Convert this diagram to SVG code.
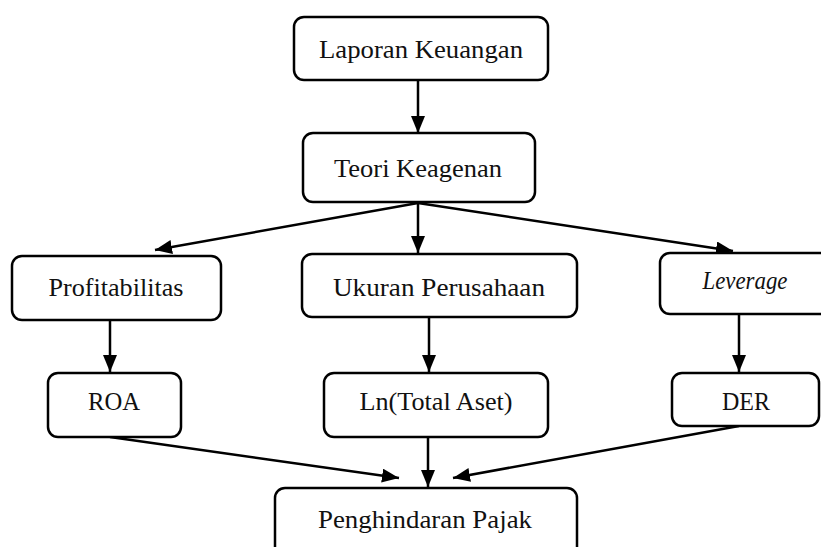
<svg xmlns="http://www.w3.org/2000/svg" width="821" height="547" viewBox="0 0 821 547">
<style>
.box{fill:#fff;stroke:#000;stroke-width:2.5}
.t{font-family:"Liberation Serif","Times New Roman",serif;font-size:25px;fill:#111;text-anchor:middle}
.c{stroke:#000;stroke-width:2.5;fill:none;marker-end:url(#ah)}
</style>
<defs>
<marker id="ah" markerUnits="userSpaceOnUse" markerWidth="18" markerHeight="14" refX="17" refY="7" orient="auto">
<path d="M0,0 L17,7 L0,14 Z" fill="#000"/>
</marker>
</defs>
<rect width="821" height="547" fill="#fff"/>
<g id="connectors">
<line class="c" x1="418" y1="80" x2="418" y2="133"/>
<line class="c" x1="418" y1="203" x2="155" y2="250"/>
<line class="c" x1="418" y1="203" x2="418" y2="253"/>
<line class="c" x1="418" y1="203" x2="733" y2="251"/>
<line class="c" x1="110" y1="320" x2="110" y2="372"/>
<line class="c" x1="429" y1="317" x2="429" y2="372"/>
<line class="c" x1="739" y1="315" x2="739" y2="372"/>
<line class="c" x1="110" y1="437" x2="399" y2="478"/>
<line class="c" x1="428" y1="437" x2="428" y2="487"/>
<line class="c" x1="739" y1="426" x2="453" y2="478"/>
</g>
<g id="laporan"><rect class="box" x="294" y="17" width="254" height="63" rx="10"/><text class="t" x="421" y="58" textLength="204" lengthAdjust="spacingAndGlyphs">Laporan Keuangan</text></g>
<g id="teori"><rect class="box" x="303" y="133" width="232" height="69" rx="10"/><text class="t" x="418" y="177" textLength="168" lengthAdjust="spacingAndGlyphs">Teori Keagenan</text></g>
<g id="profitabilitas"><rect class="box" x="12" y="256" width="209" height="64" rx="10"/><text class="t" x="116" y="296" textLength="135" lengthAdjust="spacingAndGlyphs">Profitabilitas</text></g>
<g id="ukuran"><rect class="box" x="302" y="254" width="275" height="63" rx="10"/><text class="t" x="439" y="296" textLength="212" lengthAdjust="spacingAndGlyphs">Ukuran Perusahaan</text></g>
<g id="leverage"><rect class="box" x="660" y="253" width="175" height="61" rx="10"/><text class="t" x="745" y="289" font-style="italic" textLength="85" lengthAdjust="spacingAndGlyphs">Leverage</text></g>
<g id="roa"><rect class="box" x="48" y="373" width="133" height="64" rx="10"/><text class="t" x="114" y="410" textLength="52" lengthAdjust="spacingAndGlyphs">ROA</text></g>
<g id="ln"><rect class="box" x="324" y="373" width="224" height="64" rx="10"/><text class="t" x="436" y="410" textLength="153" lengthAdjust="spacingAndGlyphs">Ln(Total Aset)</text></g>
<g id="der"><rect class="box" x="672" y="373" width="147" height="53" rx="10"/><text class="t" x="746" y="410" textLength="48" lengthAdjust="spacingAndGlyphs">DER</text></g>
<g id="penghindaran"><rect class="box" x="275" y="488" width="302" height="72" rx="10"/><text class="t" x="425" y="528" textLength="214" lengthAdjust="spacingAndGlyphs">Penghindaran Pajak</text></g>
</svg>
